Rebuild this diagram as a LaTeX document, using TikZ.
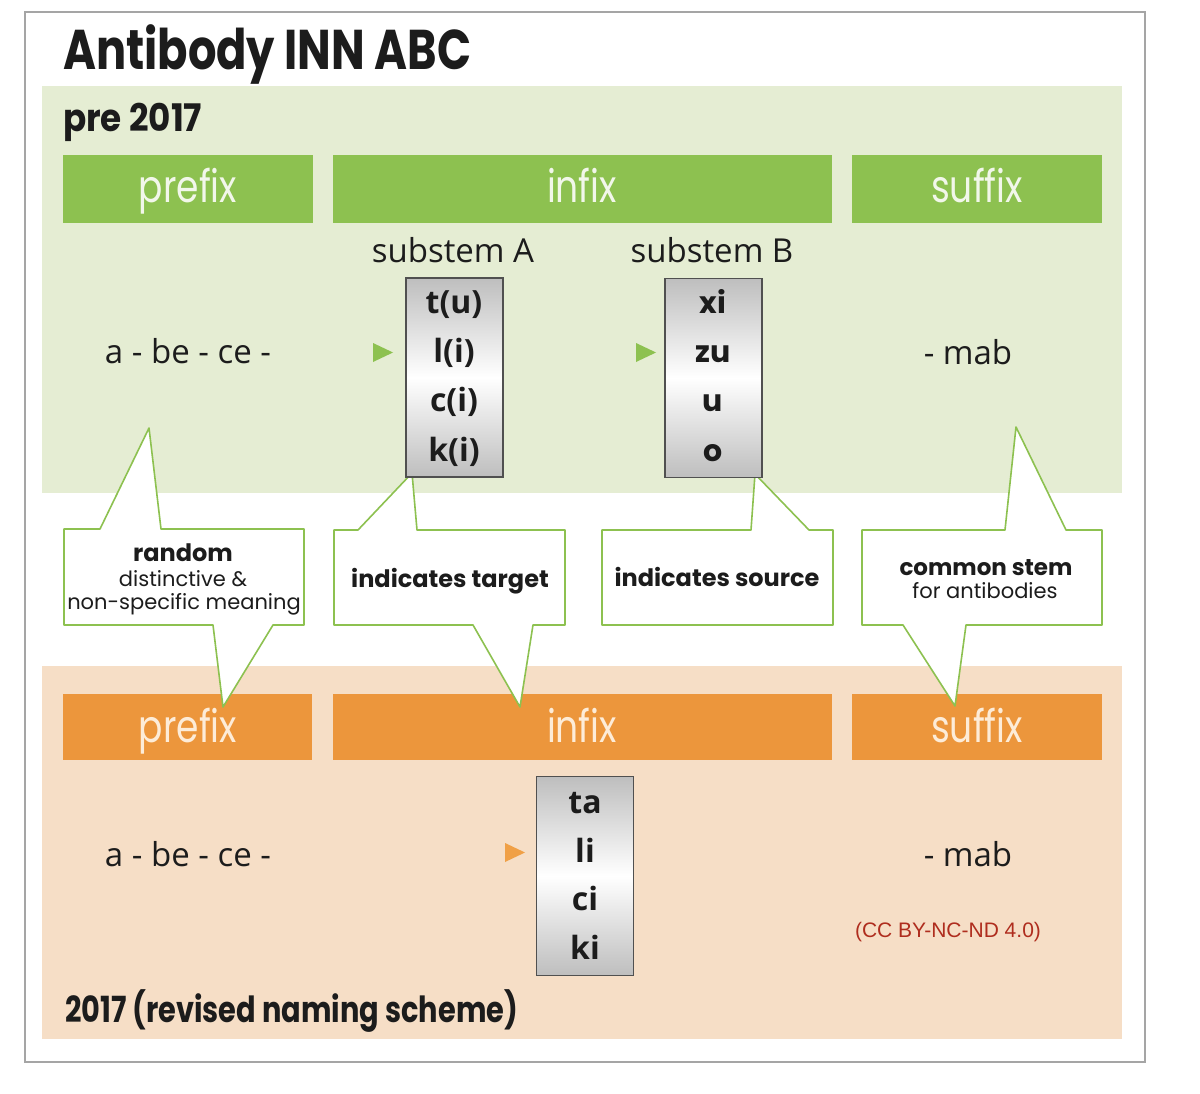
\documentclass[tikz,border=0pt]{standalone}
\usepackage{fontspec}
\setmainfont{Open Sans}
\newfontfamily\fHdr{Poppins}[FakeStretch=0.8]
\newfontfamily\fHdrW{Poppins}[FakeStretch=0.9]
\newfontfamily\fCal{Poppins}
\newfontfamily\fHum{Open Sans}
\newfontfamily\fLic{Liberation Sans}
\definecolor{gpanel}{RGB}{229,237,211}
\definecolor{gbar}{RGB}{141,193,80}
\definecolor{opanel}{RGB}{246,222,198}
\definecolor{obar}{RGB}{236,150,60}
\definecolor{otri}{RGB}{240,160,70}
\definecolor{framec}{RGB}{165,165,165}
\definecolor{txt}{RGB}{28,28,28}
\definecolor{licc}{RGB}{175,45,30}
\definecolor{hdrg}{RGB}{242,247,234}
\definecolor{hdro}{RGB}{253,236,216}
\definecolor{boxgray}{RGB}{190,190,190}
\definecolor{boxedge}{RGB}{80,80,80}
\begin{document}
\begin{tikzpicture}[x=1pt,y=-1pt,
  every node/.style={inner sep=0pt, outer sep=0pt, text=txt},
  titletxt/.style={anchor=base west, font=\fHdr\bfseries\fontsize{56}{56}\selectfont},
  yeartxt/.style={anchor=base west, font=\fHdrW\bfseries\fontsize{38}{38}\selectfont},
  hdrtxt/.style={anchor=base, font=\fHdr\fontsize{45}{45}\selectfont},
  humtxt/.style={anchor=base, font=\fHum\fontsize{33}{33}\selectfont},
  rowA/.style={anchor=base, font=\fHum\bfseries\fontsize{32}{32}\selectfont},
  rowB/.style={anchor=base, font=\fCal\bfseries\fontsize{30}{30}\selectfont},
  calbold/.style={anchor=base, font=\fCal\bfseries\fontsize{24}{24}\selectfont},
  calreg/.style={anchor=base, font=\fCal\fontsize{21}{21}\selectfont},
  stembox/.style={draw=boxedge, line width=1.5pt, top color=boxgray, bottom color=boxgray, middle color=white, minimum width=97pt, minimum height=199pt},
  callout/.style={fill=white, draw=gbar, line width=1.6pt, line join=round},
  marker/.style={fill=gbar}
]
\useasboundingbox (0,0) rectangle (1200,1094);
\fill[white] (0,0) rectangle (1200,1094);
\draw[framec, line width=2pt] (25,12) rectangle (1145,1062);
% panels
\fill[gpanel] (42,86) rectangle (1122,493);
\fill[opanel] (42,666) rectangle (1122,1039);
% header bars
\fill[gbar] (63,155) rectangle (313,223);
\fill[gbar] (333,155) rectangle (832,223);
\fill[gbar] (852,155) rectangle (1102,223);
\fill[obar] (63,694) rectangle (312,760);
\fill[obar] (333,694) rectangle (832,760);
\fill[obar] (852,694) rectangle (1102,760);
% titles
\node[titletxt] (title) at (63,70) {Antibody INN ABC};
\node[yeartxt] (pre) at (63,132) {pre 2017};
\node[yeartxt, font=\fHdr\bfseries\fontsize{36}{36}\selectfont] (post) at (65,1022) {2017 (revised naming scheme)};
% header texts
\node[hdrtxt, text=hdrg] (gprefix) at (188,203) {prefix};
\node[hdrtxt, text=hdrg] (ginfix) at (582,203) {infix};
\node[hdrtxt, text=hdrg] (gsuffix) at (977,203) {suffix};
\node[hdrtxt, text=hdro] (oprefix) at (188,742) {prefix};
\node[hdrtxt, text=hdro] (oinfix) at (582,742) {infix};
\node[hdrtxt, text=hdro] (osuffix) at (977,742) {suffix};
% callouts
\path[callout] (64,529) -- (100,529) -- (149,428) -- (161,529) -- (304,529) -- (304,625)
  -- (273,625) -- (223,707) -- (213,625) -- (64,625) -- cycle;
\path[callout] (334,530) -- (358,530) -- (412,473) -- (417,530) -- (565,530) -- (565,625)
  -- (533,625) -- (520,707) -- (473,625) -- (334,625) -- cycle;
\path[callout] (602,530) -- (751,530) -- (755,474) -- (809,530) -- (833,530) -- (833,625)
  -- (602,625) -- cycle;
\path[callout] (862,530) -- (1005,530) -- (1016,427) -- (1066,530) -- (1102,530) -- (1102,625)
  -- (966,625) -- (955,706) -- (903,625) -- (862,625) -- cycle;
% callout texts
\node[calbold] (c1a) at (183,561) {random};
\node[calreg] (c1b) at (183,586) {distinctive \&};
\node[calreg] (c1c) at (184,609) {non-specific meaning};
\node[calbold] (c2) at (450,587) {indicates target};
\node[calbold] (c3) at (717,586) {indicates source};
\node[calbold, font=\fCal\bfseries\fontsize{23}{23}\selectfont] (c4a) at (986,575) {common stem};
\node[calreg] (c4b) at (985,598) {for antibodies};
% upper row
\node[humtxt] (abcA) at (188,363) {a - be - ce -};
\node[humtxt] (mabA) at (968,364) {- mab};
\node[humtxt] (subA) at (453,263) {substem A};
\node[humtxt] (subB) at (712,263) {substem B};
\node[stembox] (boxA) at (454.5,377.5) {};
\node[stembox] (boxB) at (713.5,378) {};
\node[rowA] (a1) at (454,313) {t(u)};
\node[rowA] (a2) at (454,362) {l(i)};
\node[rowA] (a3) at (454,411) {c(i)};
\node[rowA] (a4) at (454,461) {k(i)};
\node[rowB] (b1) at (713,313) {xi};
\node[rowB] (b2) at (713,362) {zu};
\node[rowB] (b3) at (713,411) {u};
\node[rowB] (b4) at (713,461) {o};
\fill[marker] (373,343) -- (393,352.5) -- (373,362) -- cycle;
\fill[marker] (636,343) -- (656,352.5) -- (636,362) -- cycle;
% lower row
\node[humtxt] (abcB) at (188,866) {a - be - ce -};
\node[humtxt] (mabB) at (968,866) {- mab};
\node[stembox] (boxC) at (585,876) {};
\node[rowA] (c1) at (585,813) {ta};
\node[rowA] (c2r) at (585,862) {li};
\node[rowA] (c3r) at (585,910) {ci};
\node[rowA] (c4r) at (585,959) {ki};
\fill[fill=otri] (505,843) -- (525,852.5) -- (505,862) -- cycle;
\node[anchor=base, font=\fLic\fontsize{21}{21}\selectfont, text=licc] (lic) at (948,937) {(CC BY-NC-ND 4.0)};
\end{tikzpicture}
\end{document}
